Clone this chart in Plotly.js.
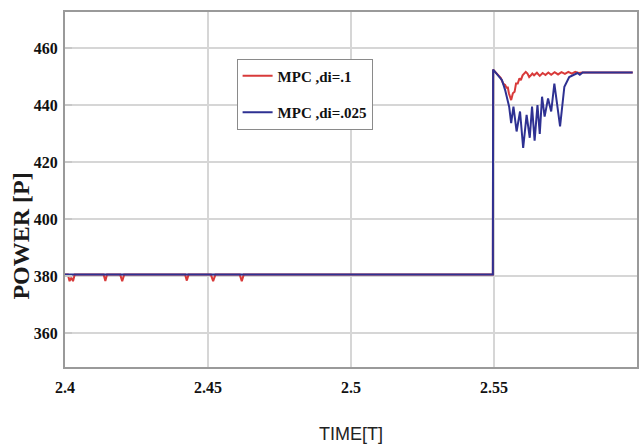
<!DOCTYPE html>
<html>
<head>
<meta charset="utf-8">
<script src="https://cdn.plot.ly/plotly-3.0.1.min.js"></script>
<style>
html,body{margin:0;padding:0;background:#fff;}
#chart{width:643px;height:446px;}
</style>
</head>
<body>
<div id="chart"></div>
<script>
// Series: MPC, di=.1 (red)
const redTime = [2.4000, 2.4010, 2.4016, 2.4022, 2.4028, 2.4034, 2.4135, 2.4141, 2.4147, 2.4193, 2.4200, 2.4207,
  2.4420, 2.4426, 2.4432, 2.4510, 2.4518, 2.4526, 2.4611, 2.4618, 2.4625, 2.5496,
  2.5497, 2.5510, 2.5524, 2.5532, 2.5539, 2.5545, 2.5548, 2.5552, 2.5556, 2.5560, 2.5566, 2.5572, 2.5577,
  2.5583, 2.5589, 2.5594, 2.5600, 2.5606, 2.5611, 2.5617, 2.5623, 2.5629, 2.5634, 2.5640, 2.5650, 2.5660,
  2.5670, 2.5680, 2.5690, 2.5700, 2.5712, 2.5724, 2.5736, 2.5748, 2.5760, 2.5772, 2.5784, 2.5796, 2.5810, 2.5985];
const redPower = [380.5, 380.5, 378.2, 379.4, 378.2, 380.5, 380.5, 378.3, 380.5, 380.5, 378.2, 380.5,
  380.5, 378.4, 380.5, 380.5, 378.2, 380.5, 380.5, 378.2, 380.5, 380.5,
  452.4, 451.0, 449.4, 447.5, 447.0, 445.8, 446.4, 444.1, 442.9, 441.7, 444.1, 444.6, 447.5,
  447.5, 449.3, 448.7, 450.4, 451.0, 451.6, 451.0, 449.8, 450.4, 451.0, 450.4, 451.3, 450.2,
  451.2, 450.5, 451.4, 450.6, 451.5, 450.7, 451.5, 450.9, 451.6, 451.0, 451.6, 451.2, 451.4, 451.4];

// Series: MPC, di=.025 (blue)
const blueTime = [2.4000, 2.5496, 2.5497, 2.5510, 2.5528, 2.5539, 2.5548, 2.5553, 2.5560, 2.5568, 2.5579,
  2.5591, 2.5602, 2.5614, 2.5625, 2.5633, 2.5642, 2.5652, 2.5660, 2.5668, 2.5677, 2.5689, 2.5700, 2.5711, 2.5731,
  2.5746, 2.5763, 2.5780, 2.5792, 2.5800, 2.5810, 2.5985];
const bluePower = [380.5, 380.5, 452.4, 451.0, 448.7, 445.2, 441.7, 439.4, 433.6, 439.4, 430.7,
  437.7, 424.9, 436.5, 428.5, 439.4, 427.5, 440.0, 429.8, 442.9, 435.9, 442.3, 437.7, 447.5, 432.5,
  446.4, 449.8, 450.7, 451.2, 450.6, 451.4, 451.4];

const seriesNames = ["MPC ,di=.1", "MPC ,di=.025"];
const xTicks = [2.4, 2.45, 2.5, 2.55, 2.6];
const xTickText = ["2.4", "2.45", "2.5", "2.55", "2.6"];
const yTicks = [360, 380, 400, 420, 440, 460];
const yTickText = ["360", "380", "400", "420", "440", "460"];
const xTitle = "TIME[T]";
const yTitle = "POWER [P]";

const traces = [
  {x: redTime, y: redPower, name: seriesNames[0], type: 'scatter', mode: 'lines',
   line: {color: '#d83a3a', width: 2}, legendgroup: 'a'},
  {x: blueTime, y: bluePower, name: seriesNames[1], type: 'scatter', mode: 'lines',
   line: {color: '#2e3192', width: 2}, legendgroup: 'b'}
];

const serif = "Liberation Serif";
const layout = {
  width: 643, height: 446,
  margin: {l: 65, r: 6, t: 12, b: 79},
  paper_bgcolor: '#ffffff', plot_bgcolor: '#ffffff',
  font: {family: serif, size: 17, color: '#111', weight: 'bold'},
  showlegend: true,
  legend: {x: 0.30, y: 0.769, xanchor: 'left', yanchor: 'middle',
    bgcolor: '#ffffff', bordercolor: '#8a8a8a', borderwidth: 1,
    font: {family: serif, size: 15, color: '#111', weight: 'bold'},
    tracegroupgap: 14, itemwidth: 30},
  xaxis: {range: [2.4, 2.6], tickvals: xTicks, ticktext: xTickText,
    showgrid: true, gridcolor: '#d6d6d6', gridwidth: 1.5,
    zeroline: false, showline: true, mirror: true, linecolor: '#9a9a9a', linewidth: 2,
    ticks: '', ticklabelstandoff: 5,
    tickfont: {family: serif, size: 16, color: '#111', weight: 'bold'},
    title: {text: xTitle, standoff: 32,
      font: {family: "Liberation Sans Narrow, Liberation Sans, sans-serif", size: 18, color: '#222', weight: 'normal'}}},
  yaxis: {range: [348.1, 472.6], tickvals: yTicks, ticktext: yTickText,
    showgrid: true, gridcolor: '#d6d6d6', gridwidth: 1.5,
    zeroline: false, showline: true, mirror: true, linecolor: '#9a9a9a', linewidth: 2,
    ticks: 'inside', ticklen: 7, tickcolor: '#c8c8c8', tickwidth: 2, ticklabelstandoff: 2,
    tickfont: {family: serif, size: 16, color: '#111', weight: 'bold'}},
  annotations: [
    {text: yTitle, xref: 'paper', yref: 'paper', x: -0.077, y: 0.37, xanchor: 'center', yanchor: 'middle',
     textangle: -90, showarrow: false,
     font: {family: serif, size: 24, color: '#1a1a1a', weight: 'bold'}}
  ],
  shapes: [
    {type: 'rect', xref: 'paper', yref: 'paper', x0: 0.3024, x1: 0.5157, y0: 0.631, y1: 0.938,
     fillcolor: '#ffffff', line: {width: 0}, layer: 'between'}
  ]
};

Plotly.newPlot('chart', traces, layout, {staticPlot: true, displayModeBar: false});
</script>
</body>
</html>
